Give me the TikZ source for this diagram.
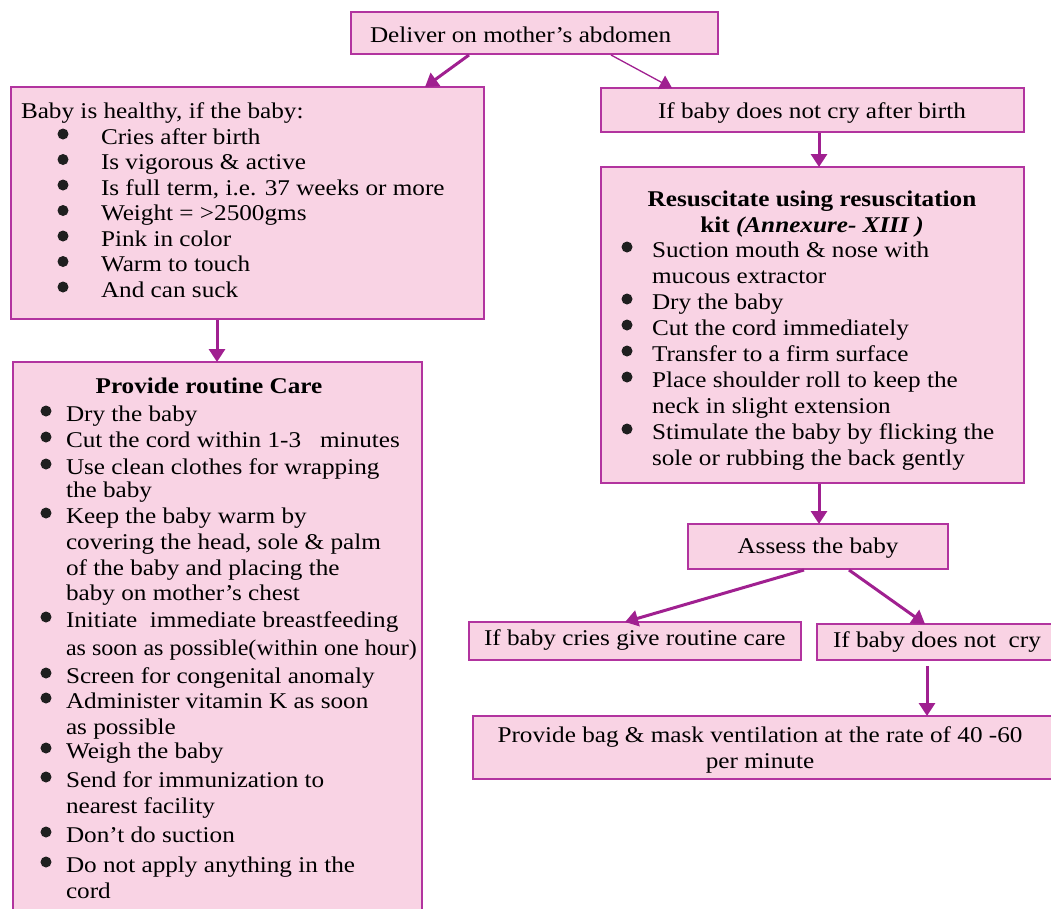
\documentclass[tikz,border=0pt]{standalone}
\usepackage{graphicx}
\usepackage{fontspec}
\setmainfont{Liberation Serif}[FakeStretch=1.12]
\usetikzlibrary{arrows.meta}
\definecolor{boxfill}{HTML}{F9D3E4}
\definecolor{boxline}{HTML}{B2349F}
\definecolor{arrowc}{HTML}{A02090}
\newcommand{\bdot}{\tikz[baseline=0pt]\fill[black!88] (0pt,10pt) circle[radius=5.5pt];}
\begin{document}
\begin{tikzpicture}[x=1pt,y=-1pt,
  box/.style={draw=boxline, fill=boxfill, line width=2pt, inner sep=0pt, outer sep=0pt, anchor=north west, rectangle},
  arr/.style={draw=arrowc, line width=3pt, -{Triangle[length=13pt,width=16pt]}},
  thinarr/.style={draw=arrowc, line width=1.3pt, -{Triangle[length=12pt,width=15pt]}},
  txt/.style={inner sep=0pt, outer sep=0pt, font=\fontsize{22.5}{26}\selectfont}]
\useasboundingbox (0,0) rectangle (1051,908);
\clip (0,0) rectangle (1051,908);

% boxes
\node[box, minimum width=367pt, minimum height=42pt] (d) at (351,12) {};
\node[box, minimum width=473pt, minimum height=232pt] (h) at (11,87) {};
\node[box, minimum width=423pt, minimum height=44pt] (nc) at (601,88) {};
\node[box, minimum width=423pt, minimum height=316pt] (rs) at (601,167) {};
\node[box, minimum width=409pt, minimum height=570pt] (rc) at (13,362) {};
\node[box, minimum width=260pt, minimum height=45pt] (as) at (688,524) {};
\node[box, minimum width=332pt, minimum height=38pt] (cr) at (469,622) {};
\node[box, minimum width=250pt, minimum height=36pt] (nt) at (817,624) {};
\node[box, minimum width=600pt, minimum height=63pt] (bg) at (473,716) {};

% texts
\node[txt, anchor=base west] (dt) at (370,42) {Deliver on mother’s abdomen};
\node[txt, anchor=base west] (ht) at (21,118) {Baby is healthy, if the baby:};
\node[txt, anchor=base west] (hl) at (57.5,144) {\fontsize{22.5}{25.5}\selectfont
\begin{tabular}[t]{@{}l@{}l@{}}
\makebox[43.5pt][l]{\bdot} & Cries after birth\\
\makebox[43.5pt][l]{\bdot} & Is vigorous \& active\\
\makebox[43.5pt][l]{\bdot} & Is full term, i.e. 37 weeks or more\\
\makebox[43.5pt][l]{\bdot} & Weight = >2500gms\\
\makebox[43.5pt][l]{\bdot} & Pink in color\\
\makebox[43.5pt][l]{\bdot} & Warm to touch\\
\makebox[43.5pt][l]{\bdot} & And can suck
\end{tabular}};
\node[txt, anchor=base] (nct) at (812,118) {If baby does not cry after birth};
\node[txt, anchor=base] (rst) at (812,206) {\begin{tabular}[t]{@{}c@{}}
\bfseries Resuscitate using resuscitation\\
\bfseries kit \textit{(Annexure- XIII )}
\end{tabular}};
\node[txt, anchor=base west] (rsl) at (621.5,257) {\begin{tabular}[t]{@{}l@{}l@{}}
\makebox[30.5pt][l]{\bdot} & Suction mouth \& nose with\\
 & mucous extractor\\
\makebox[30.5pt][l]{\bdot} & Dry the baby\\
\makebox[30.5pt][l]{\bdot} & Cut the cord immediately\\
\makebox[30.5pt][l]{\bdot} & Transfer to a firm surface\\
\makebox[30.5pt][l]{\bdot} & Place shoulder roll to keep the\\
 & neck in slight extension\\
\makebox[30.5pt][l]{\bdot} & Stimulate the baby by flicking the\\
 & sole or rubbing the back gently
\end{tabular}};
\node[txt, anchor=base] (rct) at (209,393) {\bfseries Provide routine Care};
\node[txt, anchor=base west] (rcl) at (40.5,421) {\begin{tabular}[t]{@{}l@{}l@{}}
\makebox[25.5pt][l]{\bdot} & Dry the baby\\
\makebox[25.5pt][l]{\bdot} & Cut the cord within 1-3\ \ \ minutes\\[1pt]
\makebox[25.5pt][l]{\bdot} & Use clean clothes for wrapping\\[-3pt]
 & the baby\\
\makebox[25.5pt][l]{\bdot} & Keep the baby warm by\\
 & covering the head, sole \& palm\\
 & of the baby and placing the\\[-1pt]
 & baby on mother’s chest\\[1pt]
\makebox[25.5pt][l]{\bdot} & Initiate\ \ immediate breastfeeding\\[2pt]
 & \scalebox{0.955}[1]{as soon as possible(within one hour)}\\[2pt]
\makebox[25.5pt][l]{\bdot} & Screen for congenital anomaly\\[-1pt]
\makebox[25.5pt][l]{\bdot} & Administer vitamin K as soon\\
 & as possible\\[-2pt]
\makebox[25.5pt][l]{\bdot} & Weigh the baby\\[3pt]
\makebox[25.5pt][l]{\bdot} & Send for immunization to\\
 & nearest facility\\[3pt]
\makebox[25.5pt][l]{\bdot} & Don’t do suction\\[4pt]
\makebox[25.5pt][l]{\bdot} & Do not apply anything in the\\
 & cord
\end{tabular}};
\node[txt, anchor=base] (ast) at (818,553) {Assess the baby};
\node[txt, anchor=base west] (crt) at (484,645) {If baby cries give routine care};
\node[txt, anchor=base west] (ntt) at (833,647) {If baby does not\ \ cry};
\node[txt, anchor=base] (bgt) at (760,742) {\begin{tabular}[t]{@{}c@{}}
Provide bag \& mask ventilation at the rate of 40 -60\\
per minute
\end{tabular}};

% arrows
\draw[arr] ([xshift=118pt,yshift=-1pt]d.south west) -- ([xshift=414pt]h.north west);
\draw[thinarr] ([xshift=260pt,yshift=-1pt]d.south west) -- ([xshift=71pt]nc.north west);
\draw[arr] ([xshift=206pt,yshift=-1pt]h.south west) -- ([xshift=204pt]rc.north west);
\draw[arr] ([xshift=218pt,yshift=-1pt]nc.south west) -- ([xshift=218pt]rs.north west);
\draw[arr] ([xshift=218pt,yshift=-1pt]rs.south west) -- ([xshift=131pt]as.north west);
\draw[arr] ([xshift=116pt,yshift=-1pt]as.south west) -- ([xshift=156pt]cr.north west);
\draw[arr] ([xshift=161pt,yshift=-1pt]as.south west) -- ([xshift=108pt]nt.north west);
\draw[arr] ([xshift=110pt,yshift=-6pt]nt.south west) -- ([xshift=454pt]bg.north west);
\end{tikzpicture}
\end{document}
